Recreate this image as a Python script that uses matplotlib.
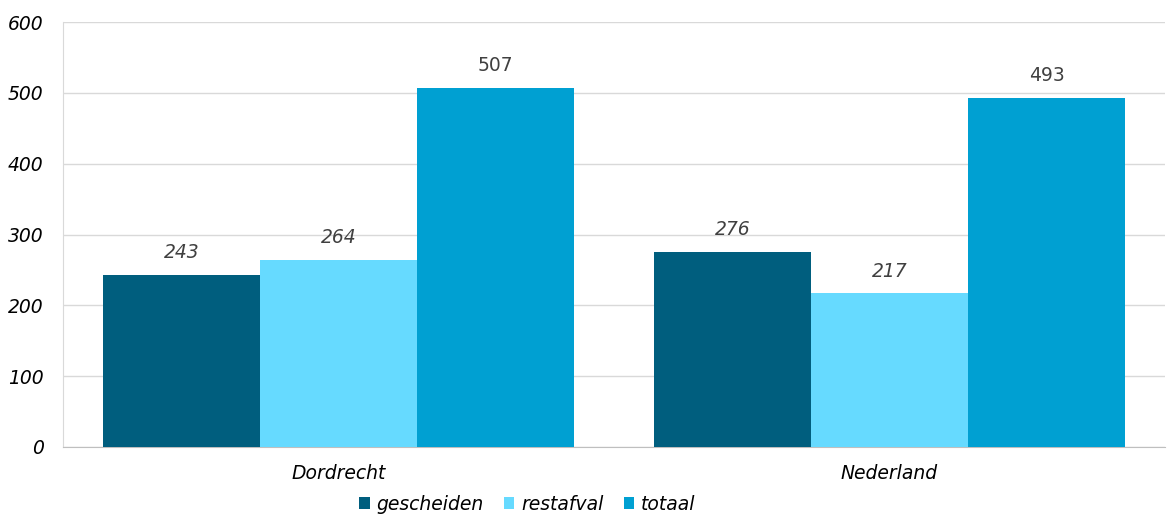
import numpy as np
import matplotlib.pyplot as plt

# Data
regions = ["Dordrecht", "Nederland"]
series = ["gescheiden", "restafval", "totaal"]
gescheiden = [243, 276]
restafval = [264, 217]
totaal = [507, 493]

colors = ["#005E7E", "#66DAFF", "#00A0D2"]
values = [gescheiden, restafval, totaal]

fig = plt.figure(figsize=(11.72, 5.23), dpi=100)
ax = fig.add_axes([63 / 1172, 1 - 447 / 523, (1165 - 63) / 1172, (447 - 22) / 523])

x = np.arange(len(regions))
width = 0.855 / 3
fs = 13.5

for i, (name, vals, col) in enumerate(zip(series, values, colors)):
    pos = x + (i - 1) * width
    ax.bar(pos, vals, width=width, color=col, label=name, zorder=3)
    italic = "normal" if name == "totaal" else "italic"
    for p, v in zip(pos, vals):
        ax.text(p, v + 18, str(v), ha="center", va="bottom", fontsize=fs,
                style=italic, color="#404040")

ax.set_xlim(-0.5, 1.5)
ax.set_ylim(0, 600)
ax.set_yticks(range(0, 601, 100))
ax.set_xticks(x)
ax.set_xticklabels(regions, fontsize=fs, style="italic")
for lbl in ax.get_yticklabels():
    lbl.set_fontsize(fs)
    lbl.set_style("italic")
ax.tick_params(length=0)
ax.tick_params(axis="y", pad=14)
ax.tick_params(axis="x", pad=12)

ax.grid(axis="y", color="#D9D9D9", linewidth=1, zorder=0)
for s in ["top", "right"]:
    ax.spines[s].set_visible(False)
ax.spines["left"].set_color("#D9D9D9")
ax.spines["bottom"].set_color("#BFBFBF")

leg = fig.legend(loc="center", bbox_to_anchor=(0.45, 1 - 504 / 523),
                 ncol=3, frameon=False, fontsize=fs, handlelength=0.55,
                 handleheight=0.55, handletextpad=0.35, columnspacing=1.1)
for t in leg.get_texts():
    t.set_style("italic")

fig.savefig("out.png", dpi=100)
